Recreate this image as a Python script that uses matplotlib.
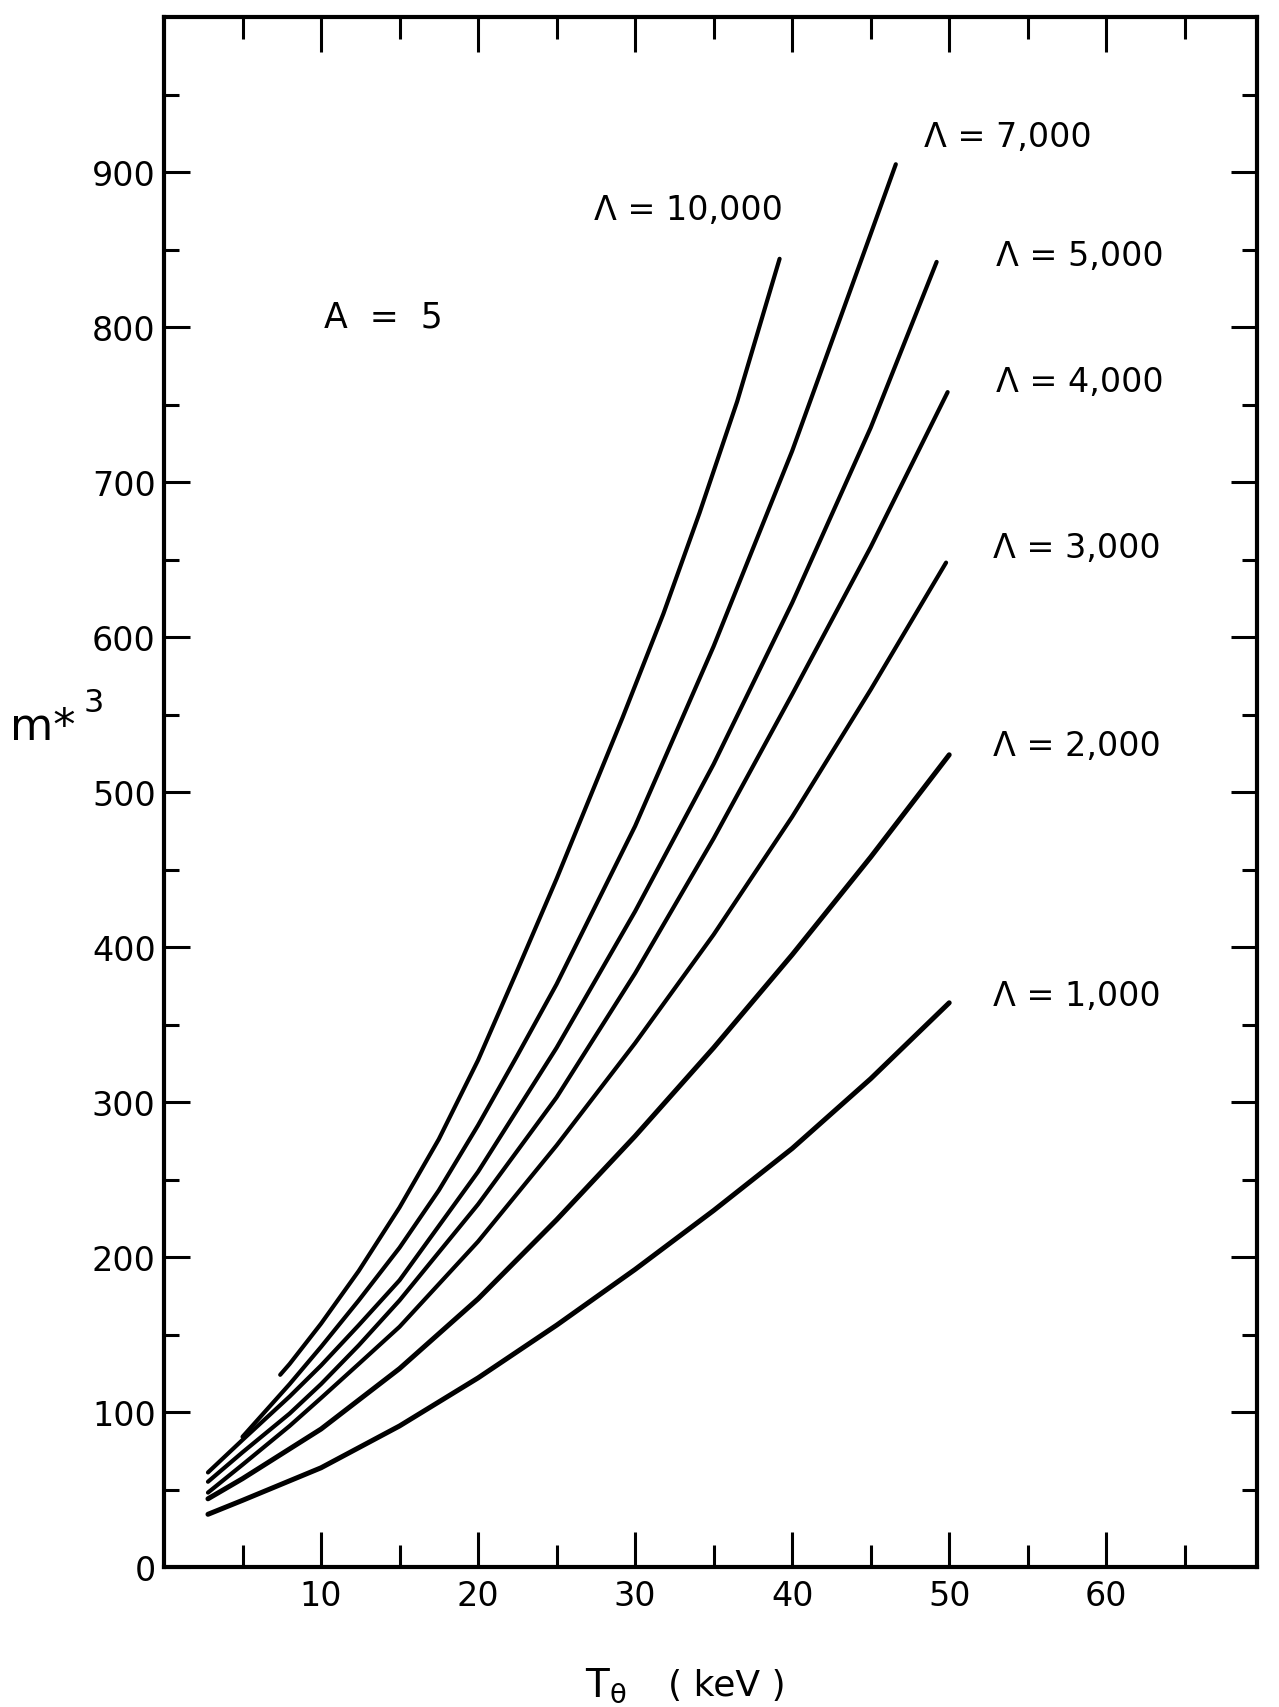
import matplotlib.pyplot as plt

# values: T_e (keV) vs m*^3, A = 5
te_1000 = [2.8, 5, 10, 15, 20, 25, 30, 35, 40, 45, 50]
m3_1000 = [34, 43, 64, 91, 122, 156, 192, 230, 270, 315, 364]

te_2000 = [2.8, 5, 10, 15, 20, 25, 30, 35, 40, 45, 50]
m3_2000 = [44, 57, 89, 128, 173, 224, 278, 335, 395, 458, 524]

te_3000 = [2.8, 5, 8, 10, 12.4, 15, 20, 25, 30, 35, 40, 45, 49.8]
m3_3000 = [48, 66, 91, 109, 131, 155, 210, 272, 338, 408, 484, 566, 648]

te_4000 = [2.8, 5, 8, 10, 12.4, 15, 20, 25, 30, 35, 40, 45, 49.9]
m3_4000 = [55, 74, 99, 118, 143, 172, 234, 303, 383, 470, 563, 658, 758]

te_5000 = [2.8, 5, 8, 10, 12.4, 15, 20, 25, 30, 35, 40, 45, 49.2]
m3_5000 = [61, 82, 110, 130, 156, 185, 255, 335, 423, 518, 622, 735, 842]

te_7000 = [5, 8, 10, 12.4, 15, 17.5, 20, 22.5, 25, 30, 35, 40, 45, 46.6]
m3_7000 = [84, 118, 142, 172, 206, 243, 285, 330, 376, 478, 594, 720, 860, 905]

te_10000 = [7.4, 8, 10, 12.4, 15, 17.5, 20, 22.5, 25, 29.2, 31.8, 34.1, 36.5, 39.2]
m3_10000 = [124, 131, 157, 191, 232, 276, 327, 385, 444, 548, 615, 680, 752, 844]

curve_labels = ["Λ = 1,000", "Λ = 2,000", "Λ = 3,000", "Λ = 4,000",
                "Λ = 5,000", "Λ = 7,000", "Λ = 10,000"]
label_x = [52.8, 52.8, 52.8, 53.0, 53.0, 48.4, 27.4]
label_y = [369, 530, 658, 765, 846, 923, 876]

plt.rcParams['font.family'] = ['DejaVu Sans']

fig = plt.figure(figsize=(12.79, 17.08), dpi=100)
ax = fig.add_axes([164 / 1279, 140 / 1708, 1093 / 1279, 1550 / 1708])

series = [(te_1000, m3_1000), (te_2000, m3_2000), (te_3000, m3_3000),
          (te_4000, m3_4000), (te_5000, m3_5000), (te_7000, m3_7000),
          (te_10000, m3_10000)]
widths = [3.6, 3.6, 3.0, 3.0, 3.0, 3.0, 3.0]
for (xs, ys), lw in zip(series, widths):
    ax.plot(xs, ys, color="black", lw=lw, solid_capstyle="round",
            solid_joinstyle="round")

for txt, lx, ly in zip(curve_labels, label_x, label_y):
    ax.text(lx, ly, txt, fontsize=24, ha="left", va="center")
ax.text(10.2, 807, "A  =  5", fontsize=25, ha="left", va="center")

ax.set_xlim(0, 69.6)
ax.set_ylim(0, 1000)

ax.set_xticks(range(10, 70, 10))
ax.set_xticks(range(5, 70, 10), minor=True)
ax.set_yticks(range(0, 1000, 100))
ax.set_yticks(range(50, 1000, 100), minor=True)

ax.tick_params(which="both", direction="in", top=True, right=True,
               width=2.2, color="black", labelsize=24)
ax.tick_params(axis="x", which="major", length=25, pad=9)
ax.tick_params(axis="x", which="minor", length=16)
ax.tick_params(axis="y", which="major", length=19, pad=6)
ax.tick_params(axis="y", which="minor", length=11)

for sp in ax.spines.values():
    sp.set_linewidth(3.0)

# axis titles placed as figure text, like the hand lettering
fig.text(10 / 1279, 1 - 728 / 1708, "m*", fontsize=32, ha="left", va="center")
fig.text(84 / 1279, 1 - 704 / 1708, "3", fontsize=23, ha="left", va="center")
fig.text(585 / 1279, 1 - 1686 / 1708, r"T$_\mathregular{\theta}$", fontsize=28,
         ha="left", va="center")
fig.text(668 / 1279, 1 - 1686 / 1708, "( keV )", fontsize=26, ha="left", va="center")

fig.savefig("out.png", dpi=100, facecolor="white")
